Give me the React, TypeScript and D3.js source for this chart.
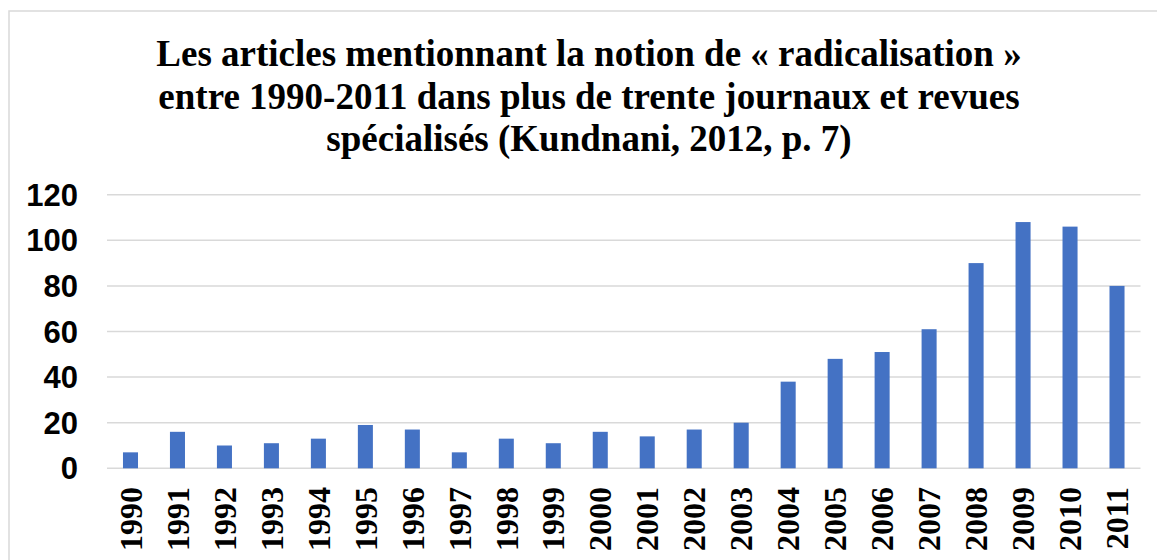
import React from "react";
import * as d3 from "d3";

const titleLines = [
  "Les articles mentionnant la notion de « radicalisation »",
  "entre 1990-2011 dans plus de trente journaux et revues",
  "spécialisés (Kundnani, 2012, p. 7)",
];
const years = [
  "1990", "1991", "1992", "1993", "1994", "1995", "1996", "1997", "1998", "1999", "2000",
  "2001", "2002", "2003", "2004", "2005", "2006", "2007", "2008", "2009", "2010", "2011",
];
const counts = [7, 16, 10, 11, 13, 19, 17, 7, 13, 11, 16, 14, 17, 20, 38, 48, 51, 61, 90, 108, 106, 80];
const yTicks = [0, 20, 40, 60, 80, 100, 120];

const W = 1157;
const H = 560;
const plot = { left: 107, right: 1140.5, top: 194.7, bottom: 468.3 };

export default function App() {
  const x = d3
    .scaleBand<string>()
    .domain(years)
    .range([plot.left, plot.right])
    .paddingInner(0.68)
    .paddingOuter(0.34);
  const y = d3.scaleLinear().domain([0, 120]).range([plot.bottom, plot.top]);
  const data = years.map((yr, i) => ({ yr, v: counts[i] }));

  return (
    <svg
      width={W}
      height={H}
      style={{ position: "absolute", left: 0, top: 0, background: "#fff" }}
    >
      <rect x={0} y={0} width={W} height={H} fill="#fff" />
      <rect x={9} y={11} width={W + 20} height={H + 20} fill="none" stroke="#d9d9d9" strokeWidth={1.5} />
      <g
        fontFamily="'Liberation Serif', 'Times New Roman', serif"
        fontWeight="bold"
        fontSize={37}
        textAnchor="middle"
        fill="#000"
      >
        {titleLines.map((t, i) => (
          <text key={i} x={589} y={66 + i * 42.5}>
            {t}
          </text>
        ))}
      </g>
      <g>
        {yTicks.map((t) => (
          <line
            key={t}
            x1={plot.left}
            x2={plot.right}
            y1={y(t)}
            y2={y(t)}
            stroke="#d9d9d9"
            strokeWidth={1.5}
          />
        ))}
      </g>
      <g
        fontFamily="'Liberation Sans', Arial, sans-serif"
        fontWeight="bold"
        fontSize={31}
        textAnchor="end"
        fill="#000"
      >
        {yTicks.map((t) => (
          <text key={t} x={78} y={y(t)} dy="0.36em">
            {t}
          </text>
        ))}
      </g>
      <g>
        {data.map((d) => (
          <rect
            key={d.yr}
            x={x(d.yr)}
            y={y(d.v)}
            width={x.bandwidth()}
            height={y(0) - y(d.v)}
            fill="#4472C4"
          />
        ))}
      </g>
      <g
        fontFamily="'Liberation Serif', 'Times New Roman', serif"
        fontWeight="bold"
        fontSize={32}
        textAnchor="end"
        fill="#000"
      >
        {years.map((yr) => {
          const cx = (x(yr) as number) + x.bandwidth() / 2;
          const ty = 487;
          return (
            <text key={yr} transform={`translate(${cx},${ty}) rotate(-90)`} dy="0.35em">
              {yr}
            </text>
          );
        })}
      </g>
    </svg>
  );
}
